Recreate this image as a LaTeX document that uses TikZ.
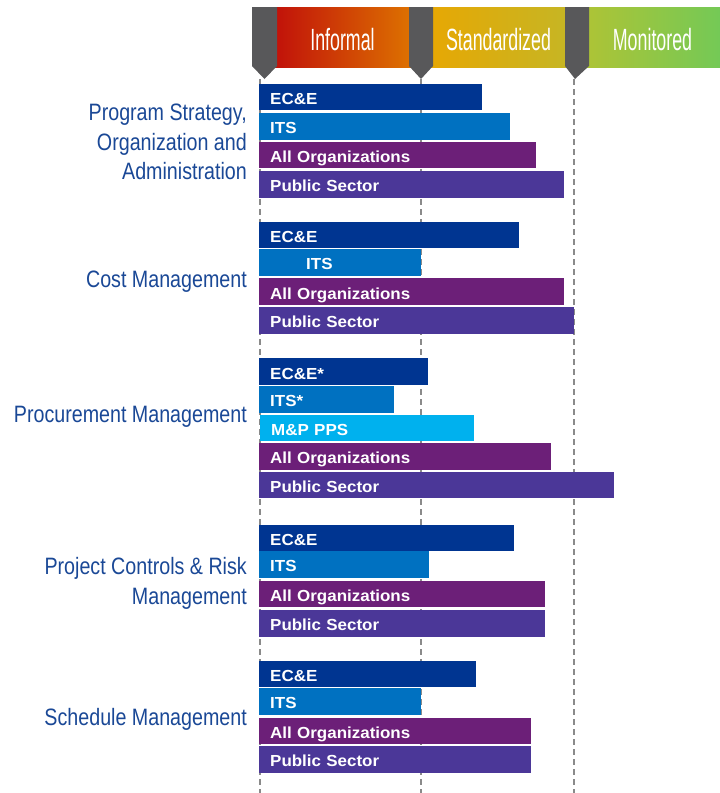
\documentclass[tikz,border=0pt]{standalone}
\usepackage{fontspec}
\setmainfont{Liberation Sans}
\newfontfamily\headfont[FakeStretch=0.58]{Liberation Sans}
\newfontfamily\sidefont[FakeStretch=0.83]{Liberation Sans}
\newfontfamily\barfont[FakeStretch=1.06]{Liberation Sans}
\usepackage{tikz}
\definecolor{ece}{HTML}{003591}
\definecolor{its}{HTML}{0071C1}
\definecolor{mpp}{HTML}{00B1EE}
\definecolor{allorg}{HTML}{6C1F78}
\definecolor{pubsec}{HTML}{4B3798}
\definecolor{sideblue}{HTML}{1A4896}
\definecolor{guidegray}{HTML}{8A8A8A}
\definecolor{markgray}{HTML}{58585A}
\definecolor{infL}{HTML}{C00E0A}
\definecolor{infR}{HTML}{DE7400}
\definecolor{stdL}{HTML}{EAA600}
\definecolor{stdR}{HTML}{C5B625}
\definecolor{monL}{HTML}{B4C332}
\definecolor{monR}{HTML}{74C956}

\begin{document}
\begin{tikzpicture}[x=1pt,y=-1pt,
  guide/.style={draw=guidegray,line width=2pt,dash pattern=on 6pt off 4pt},
  marker/.style={fill=markgray},
  head/.style={anchor=base,text=white,inner sep=0pt,
    font=\headfont\fontsize{30.7}{30}\selectfont},
  side/.style={anchor=base east,align=right,text=sideblue,inner sep=0pt,
    font=\sidefont\fontsize{23.7}{29.2}\selectfont},
  bar/.style 2 args={anchor=west,fill=#1,text=white,inner xsep=11pt,
    inner ysep=0pt,minimum height=26.5pt,text height=17pt,text depth=2.4pt,
    text width=#2-22pt,align=left,
    font=\barfont\bfseries\fontsize{16}{16}\selectfont}]
  \useasboundingbox
    (0,0)
    rectangle
    (720,793);
  \shade[left color=infL,right color=infR]
    (270,7)
    rectangle
    (415,67);
  \shade[left color=stdL,right color=stdR]
    (415,7)
    rectangle
    (571,67);
  \shade[left color=monL,right color=monR]
    (571,7)
    rectangle
    (720,67);
  \coordinate (g1) at (260,79);
  \coordinate (g2) at (421,79);
  \coordinate (g3) at (573.5,79);
  \draw[guide]
    (g1)
    --
    (g1 |- 0,793);
  \draw[guide]
    (g2)
    --
    (g2 |- 0,793);
  \draw[guide]
    (g3)
    --
    (g3 |- 0,793);
  \coordinate (m1) at (264.5,79);
  \coordinate (m2) at (421,79);
  \coordinate (m3) at (575,79);
  \fill[marker]
    (252,7) -- (277,7) -- (277,66)
    --
    (m1)
    --
    (252,66) -- cycle;
  \fill[marker]
    (409,7) -- (433,7) -- (433,66)
    --
    (m2)
    --
    (409,66) -- cycle;
  \fill[marker]
    (565,7) -- (589,7) -- (589,66)
    --
    (m3)
    --
    (565,66) -- cycle;
  \node[head] (hInformal) at (342.5,50) {Informal};
  \node[head] (hStandard) at (498.5,50) {Standardized};
  \node[head] (hMonitor) at (652.5,50) {Monitored};
  \node[side] (lStrategy) at (247,179.3)
    {Program Strategy,\\Organization and\\Administration};
  \node[side] (lCost) at (247,287) {Cost Management};
  \node[side] (lProcure) at (247,422) {Procurement Management};
  \node[side] (lControls) at (247,604)
    {Project Controls \& Risk\\Management};
  \node[side] (lSchedule) at (247,725) {Schedule Management};
  \node[bar={ece}{223pt}] (sEce) at (259,97) {EC\&E};
  \node[bar={its}{251pt}] (sIts) at (259,126.5) {ITS};
  \node[bar={allorg}{277pt}] (sAll) at (259,155) {All Organizations};
  \node[bar={pubsec}{305pt}] (sPub) at (259,184.3) {Public Sector};
  \node[bar={ece}{260pt}] (cEce) at (259,235) {EC\&E};
  \node[bar={its}{162pt}] (cIts) at (259,262.3) {\hspace*{36pt}ITS};
  \node[bar={allorg}{305pt}] (cAll) at (259,291.7) {All Organizations};
  \node[bar={pubsec}{315pt}] (cPub) at (259,320.3) {Public Sector};
  \node[bar={ece}{169pt}] (pEce) at (259,371.7) {EC\&E*};
  \node[bar={its}{135pt}] (pIts) at (259,399.3) {ITS*};
  \node[bar={mpp}{214pt}] (pMpp) at (260,427.8) {M\&P PPS};
  \node[bar={allorg}{292pt}] (pAll) at (259,456.5) {All Organizations};
  \node[bar={pubsec}{355pt}] (pPub) at (259,484.8) {Public Sector};
  \node[bar={ece}{255pt}] (rEce) at (259,537.8) {EC\&E};
  \node[bar={its}{170pt}] (rIts) at (259,564.3) {ITS};
  \node[bar={allorg}{286pt}] (rAll) at (259,593.8) {All Organizations};
  \node[bar={pubsec}{286pt}] (rPub) at (259,623.3) {Public Sector};
  \node[bar={ece}{217pt}] (tEce) at (259,673.8) {EC\&E};
  \node[bar={its}{162pt}] (tIts) at (259,701.5) {ITS};
  \node[bar={allorg}{272pt}] (tAll) at (259,731) {All Organizations};
  \node[bar={pubsec}{272pt}] (tPub) at (259,759.3) {Public Sector};
\end{tikzpicture}
\end{document}
